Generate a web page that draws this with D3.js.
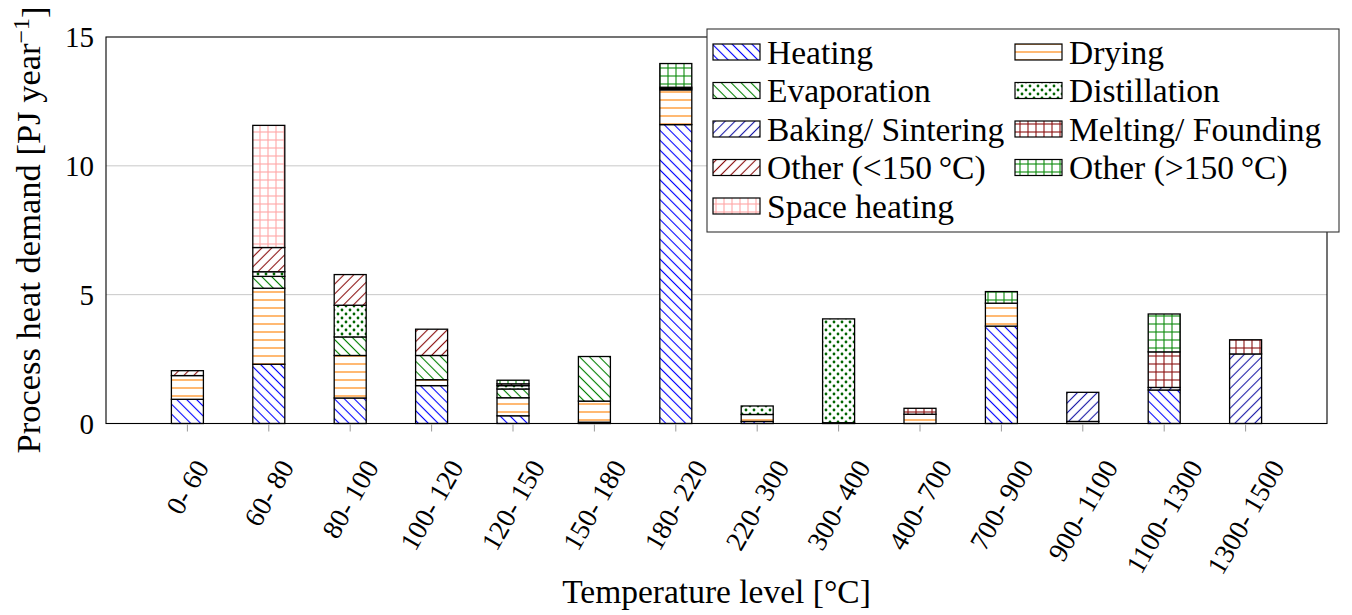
<!DOCTYPE html>
<html>
<head>
<meta charset="utf-8">
<script src="https://cdn.jsdelivr.net/npm/d3@7"></script>
<style>
  html, body { margin: 0; padding: 0; background: #fff; }
  svg text { fill: #000; }
</style>
</head>
<body>
<svg id="chart" width="1352" height="615" font-family="'Liberation Serif', 'DejaVu Serif', serif"></svg>
<script>
// Temperature bands (x categories)
const categories = ["0- 60", "60- 80", "80- 100", "100- 120", "120- 150", "150- 180", "180- 220",
  "220- 300", "300- 400", "400- 700", "700- 900", "900- 1100", "1100- 1300", "1300- 1500"];

// Process heat demand per application [PJ/year], one value per temperature band
const heating      = [0.94, 2.30, 0.99, 1.47, 0.30, 0.05, 11.60, 0.08, 0.03, 0.00, 3.78, 0.00, 1.30, 0.00];
const drying       = [0.92, 2.95, 1.65, 0.23, 0.70, 0.82, 1.35, 0.27, 0.00, 0.36, 0.89, 0.08, 0.00, 0.00];
const evaporation  = [0.00, 0.46, 0.72, 0.94, 0.34, 1.73, 0.00, 0.00, 0.00, 0.00, 0.00, 0.00, 0.00, 0.00];
const distillation = [0.00, 0.18, 1.23, 0.00, 0.13, 0.00, 0.05, 0.33, 4.03, 0.00, 0.00, 0.00, 0.00, 0.00];
const baking       = [0.00, 0.00, 0.00, 0.00, 0.00, 0.00, 0.00, 0.00, 0.00, 0.00, 0.00, 1.13, 0.10, 2.70];
const melting      = [0.00, 0.00, 0.00, 0.00, 0.00, 0.00, 0.05, 0.00, 0.00, 0.23, 0.00, 0.00, 1.38, 0.55];
const otherLow     = [0.19, 0.94, 1.19, 1.02, 0.07, 0.00, 0.00, 0.00, 0.00, 0.00, 0.00, 0.00, 0.00, 0.00];
const otherHigh    = [0.00, 0.00, 0.00, 0.00, 0.14, 0.00, 0.92, 0.00, 0.00, 0.00, 0.45, 0.00, 1.47, 0.00];
const spaceHeating = [0.00, 4.74, 0.00, 0.00, 0.00, 0.00, 0.00, 0.00, 0.00, 0.00, 0.00, 0.00, 0.00, 0.00];

const seriesNames = ["Heating", "Drying", "Evaporation", "Distillation", "Baking/ Sintering",
  "Melting/ Founding", "Other (<150\u2009°C)", "Other (>150\u2009°C)", "Space heating"];
const seriesValues = [heating, drying, evaporation, distillation, baking, melting, otherLow, otherHigh, spaceHeating];

const yTicks = [0, 5, 10, 15];

// fill styles for each application
const fills = [
  { type: "lines", angle: 45,  color: "#0000ff" },
  { type: "lines", angle: 0,   color: "#ff8000" },
  { type: "lines", angle: 45,  color: "#008000" },
  { type: "dots",              color: "#006400" },
  { type: "lines", angle: -45, color: "#1c1ca8" },
  { type: "grid",              color: "#8b1010" },
  { type: "lines", angle: -45, color: "#8b1010" },
  { type: "grid",              color: "#0a8a0a" },
  { type: "grid",              color: "#ffa6a6" }
];

const svg = d3.select("#chart");
const plot = { left: 106, right: 1327, top: 37, bottom: 423.5 };

// ---- patterns ----
const defs = svg.append("defs");
fills.forEach((f, i) => {
  const id = "pat" + i;
  const s = f.type === "lines" ? (f.angle === 0 ? 8 : 7) : 8;
  const p = defs.append("pattern").attr("id", id)
    .attr("patternUnits", "userSpaceOnUse")
    .attr("width", s).attr("height", s);
  p.append("rect").attr("width", s).attr("height", s).attr("fill", "#fff");
  if (f.type === "lines") {
    if (f.angle !== 0) p.attr("patternTransform", `rotate(${f.angle})`);
    p.append("line").attr("x1", 0).attr("x2", s).attr("y1", s / 2).attr("y2", s / 2)
      .attr("stroke", f.color).attr("stroke-width", 1.1);
  } else if (f.type === "grid") {
    p.append("line").attr("x1", 0).attr("x2", s).attr("y1", s / 2).attr("y2", s / 2)
      .attr("stroke", f.color).attr("stroke-width", 1.1);
    p.append("line").attr("y1", 0).attr("y2", s).attr("x1", s / 2).attr("x2", s / 2)
      .attr("stroke", f.color).attr("stroke-width", 1.1);
  } else {
    p.append("circle").attr("cx", 2).attr("cy", 2).attr("r", 1.4).attr("fill", f.color);
    p.append("circle").attr("cx", 6).attr("cy", 6).attr("r", 1.4).attr("fill", f.color);
  }
});

// ---- scales ----
const x = d3.scalePoint().domain(categories).range([plot.left, plot.right]).padding(1);
const y = d3.scaleLinear().domain([0, 15]).range([plot.bottom, plot.top]);
const barW = 32;

// grid lines
svg.append("g").selectAll("line").data(yTicks.filter(t => t > 0 && t < 15)).join("line")
  .attr("x1", plot.left).attr("x2", plot.right)
  .attr("y1", d => y(d)).attr("y2", d => y(d))
  .attr("stroke", "#c8c8c8").attr("stroke-width", 1);

// ---- stacked bars ----
const rows = categories.map((c, i) => {
  const r = { cat: c };
  seriesNames.forEach((n, k) => r[n] = seriesValues[k][i]);
  return r;
});
const stacked = d3.stack().keys(seriesNames)(rows);

const barsG = svg.append("g");
stacked.forEach((layer, k) => {
  barsG.append("g").selectAll("rect")
    .data(layer.filter(d => d[1] - d[0] > 0))
    .join("rect")
    .attr("x", d => x(d.data.cat) - barW / 2)
    .attr("width", barW)
    .attr("y", d => y(d[1]))
    .attr("height", d => y(d[0]) - y(d[1]))
    .attr("fill", `url(#pat${k})`)
    .attr("stroke", "#000").attr("stroke-width", 1.3);
});

// ---- axes ----
svg.append("rect").attr("x", plot.left).attr("y", plot.top)
  .attr("width", plot.right - plot.left).attr("height", plot.bottom - plot.top)
  .attr("fill", "none").attr("stroke", "#000").attr("stroke-width", 1.1);

// x ticks
svg.append("g").selectAll("line").data(categories).join("line")
  .attr("x1", d => x(d)).attr("x2", d => x(d))
  .attr("y1", plot.bottom + 1).attr("y2", plot.bottom + 8)
  .attr("stroke", "#999").attr("stroke-width", 1);

// x labels: rotated 60°, the rotated box is centred under its tick with a common top edge
const labelTop = plot.bottom + 31;
svg.append("g").selectAll("g").data(categories).join("g")
  .each(function(d) {
    const outer = d3.select(this);
    const inner = outer.append("g").attr("transform", "rotate(-60)");
    inner.append("text").attr("text-anchor", "end").style("font-size", "27.5px").text(d);
    const bb = this.getBBox();
    outer.attr("transform",
      `translate(${x(d) - (bb.x + bb.width / 2)},${labelTop - bb.y})`);
  });

// y tick labels
svg.append("g").selectAll("text").data(yTicks).join("text")
  .attr("x", plot.left - 12).attr("y", d => y(d))
  .attr("dy", "0.35em")
  .attr("text-anchor", "end")
  .style("font-size", "29px")
  .text(d => d);

// axis titles
svg.append("text").attr("x", (plot.left + plot.right) / 2).attr("y", 603)
  .attr("text-anchor", "middle").style("font-size", "33.5px")
  .text("Temperature level [°C]");

const yTitle = svg.append("text")
  .attr("transform", `translate(40,${230}) rotate(-90)`)
  .attr("text-anchor", "middle").style("font-size", "34.5px");
yTitle.append("tspan").text("Process heat demand [PJ year");
yTitle.append("tspan").attr("dy", "-0.45em").style("font-size", "24px").text("\u22121");
yTitle.append("tspan").attr("dy", "0.45em").text("]");

// ---- legend ----
const lg = svg.append("g");
lg.append("rect").attr("x", 707).attr("y", 29).attr("width", 632).attr("height", 203)
  .attr("fill", "#fff").attr("stroke", "#333").attr("stroke-width", 1.1);
seriesNames.forEach((n, k) => {
  const col = k % 2, row = Math.floor(k / 2);
  const sx = col === 0 ? 713 : 1015;
  const cy = 52 + row * 38.5;
  lg.append("rect").attr("x", sx).attr("y", cy - 8).attr("width", 47).attr("height", 16)
    .attr("fill", `url(#pat${k})`).attr("stroke", "#000").attr("stroke-width", 1.2);
  lg.append("text").attr("x", sx + 54).attr("y", cy).attr("dy", "0.35em")
    .style("font-size", "33.5px").text(n);
});
</script>
</body>
</html>
